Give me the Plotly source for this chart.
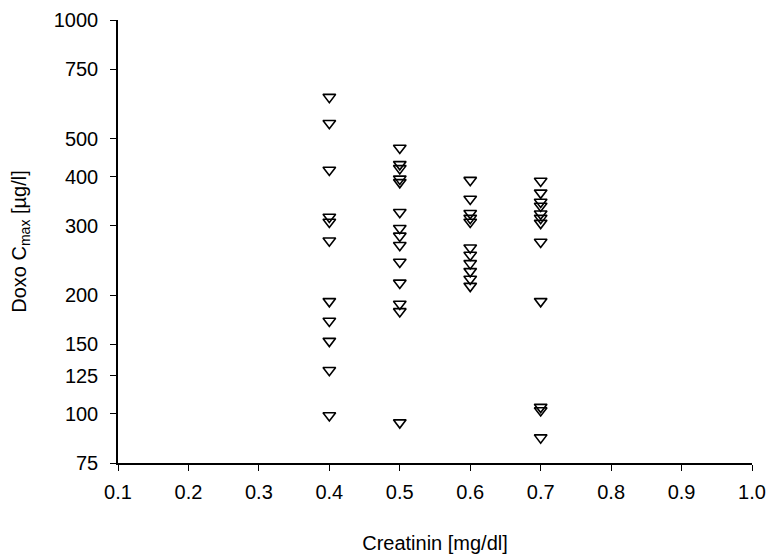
import plotly.graph_objects as go

# Creatinin groups [mg/dl]
creat_04 = [637, 547, 416, 316, 307, 275, 193, 172, 153, 129, 99]
creat_05 = [473, 430, 420, 395, 387, 325, 296, 283, 268, 243, 215, 190, 182, 95]
creat_06 = [392, 351, 323, 314, 307, 264, 253, 241, 230, 220, 211]
creat_07 = [390, 364, 345, 337, 322, 314, 305, 273, 193, 104, 102, 87]

groups = {0.4: creat_04, 0.5: creat_05, 0.6: creat_06, 0.7: creat_07}

x_vals = []
y_vals = []
for cx, vals in groups.items():
    x_vals += [cx] * len(vals)
    y_vals += vals

y_ticks = [75, 100, 125, 150, 200, 300, 400, 500, 750, 1000]
x_ticks = [0.1, 0.2, 0.3, 0.4, 0.5, 0.6, 0.7, 0.8, 0.9, 1.0]

fig = go.Figure()
fig.add_trace(go.Scatter(
    x=x_vals, y=y_vals, mode="markers",
    marker=dict(symbol="triangle-down-open", size=11, color="black",
                line=dict(color="black", width=1.6)),
    showlegend=False, cliponaxis=False,
))

font = dict(family="Liberation Sans, Arial, sans-serif", size=20, color="black")

fig.update_layout(
    width=776, height=546,
    margin=dict(l=110, r=32, t=12, b=91, autoexpand=False),
    paper_bgcolor="white", plot_bgcolor="white",
    font=font,
    xaxis=dict(
        range=[0.1, 1.0], tickvals=x_ticks, tickformat=".1f",
        showgrid=False, zeroline=False, automargin=False,
        showline=True, linecolor="black", linewidth=1.5,
        ticks="outside", ticklen=6, tickwidth=1, tickcolor="black",
        ticklabelstandoff=4,
        title=dict(text="Creatinin [mg/dl]", standoff=36, font=font),
    ),
    yaxis=dict(
        type="log", range=[1.8751, 3.0], tickvals=y_ticks,
        ticktext=[str(v) for v in y_ticks],
        showgrid=False, zeroline=False, automargin=False,
        showline=True, linecolor="black", linewidth=1.5,
        ticks="outside", ticklen=6, tickwidth=1, tickcolor="black",
        ticklabelstandoff=8,
        title=dict(text="Doxo C<sub>max</sub> [µg/l]", standoff=22, font=font),
    ),
)

fig.write_html("out.html")
